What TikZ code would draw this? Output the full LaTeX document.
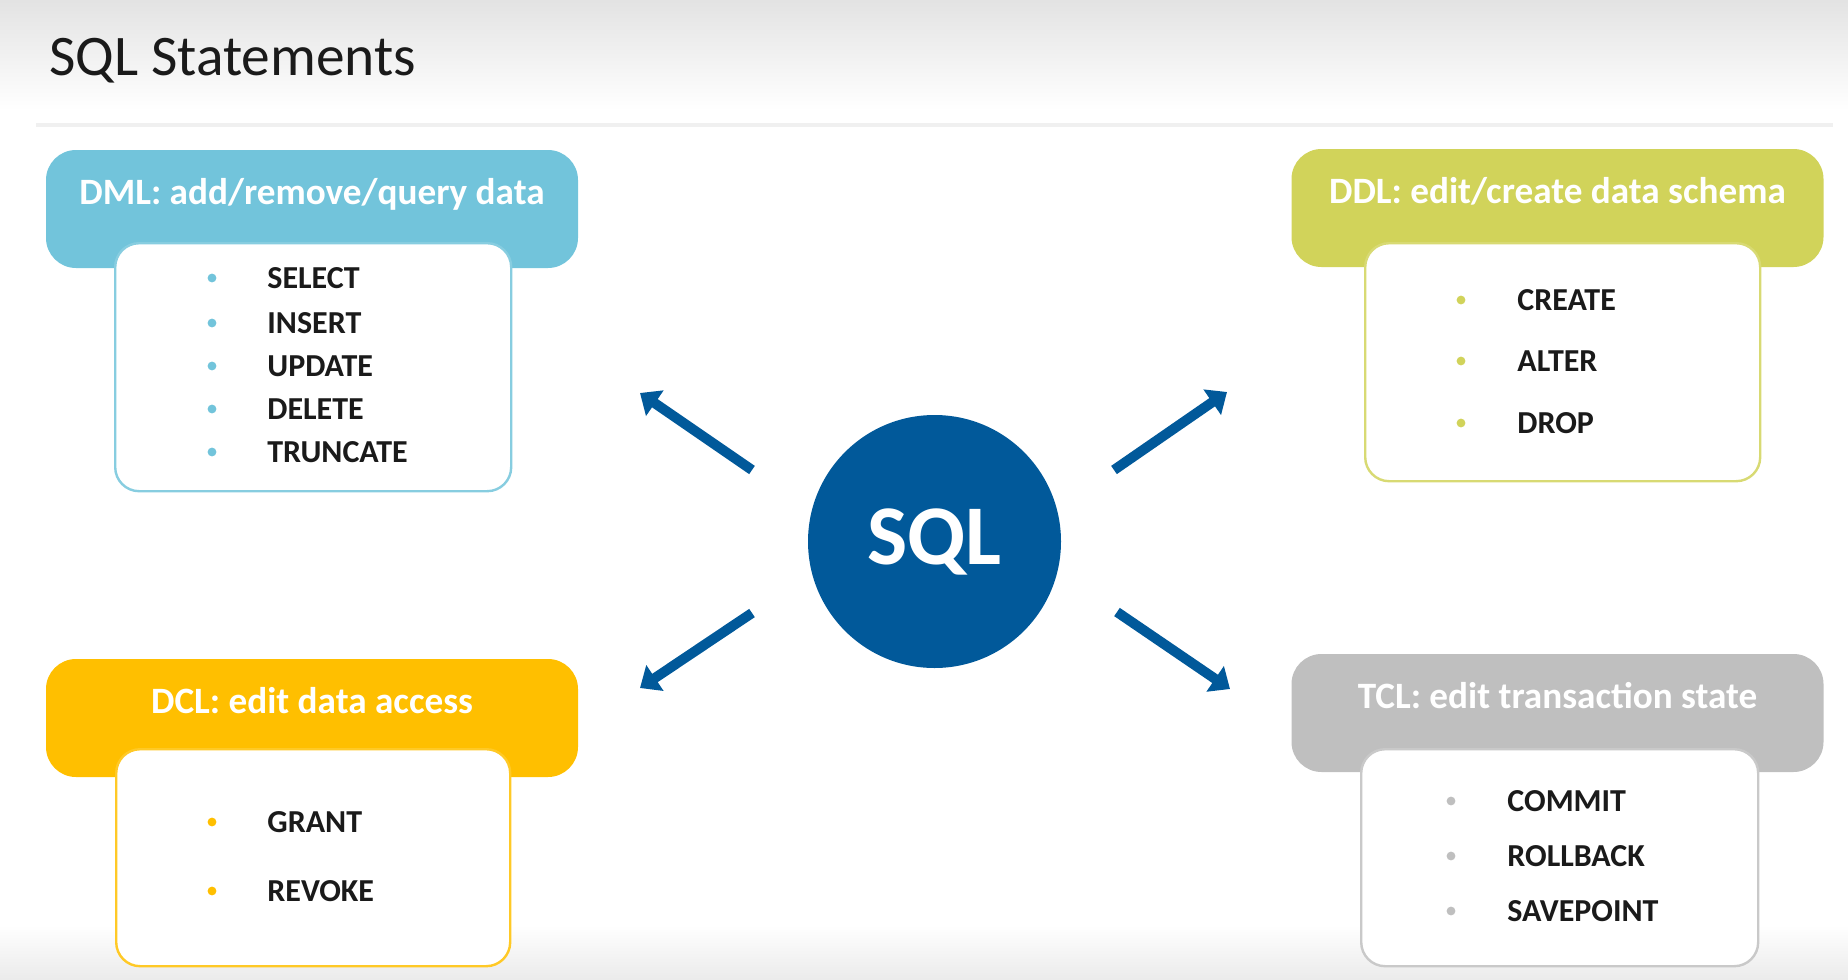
\documentclass[tikz,border=0pt]{standalone}
\usepackage{fontspec}
\setmainfont{Carlito}
\usetikzlibrary{arrows.meta, positioning}
\definecolor{sqlblue}{HTML}{01599A}
\definecolor{dmlc}{HTML}{72C4DB}
\definecolor{ddlc}{HTML}{D1D35A}
\definecolor{dclc}{HTML}{FFBF00}
\definecolor{tclc}{HTML}{BFBFBF}
\definecolor{itemc}{HTML}{1A1A1A}

\begin{document}
\begin{tikzpicture}[x=0.5pt, y=-0.5pt, title/.style={anchor=base west, inner sep=0pt, text=itemc, font=\fontsize{28.7}{31}\selectfont}, hdr/.style={fill=#1, rounded corners=15pt, minimum width=266pt, text height=27pt, text depth=32pt, inner sep=0pt, anchor=base, text=white, font=\bfseries\fontsize{18.6}{21}\selectfont}, listbox/.style={draw=#1!85, line width=1.2pt, fill=white, rounded corners=12pt, anchor=north west, inner sep=0pt}, bul/.style={circle, fill=#1, minimum size=4.4pt, inner sep=0pt}, item/.style={anchor=west, inner sep=0pt, text=itemc, font=\bfseries\fontsize{16}{18}\selectfont}, arr/.style={draw=sqlblue, line width=5pt, -{Triangle[length=9pt, width=15pt]}}]
\useasboundingbox (0,0) rectangle (1848,980);
\shade[top color=black!11, bottom color=white] (0,0) rectangle (1848,110);
\shade[top color=white, bottom color=black!8] (0,925) rectangle (1848,980);
\draw[black!6, line width=2pt] (36,125) -- (1833,125);
\node[title] (title) at (49,75){SQL Statements};
% DML
\node[hdr=dmlc] (dml) at (312,204){DML: add/remove/query data};
\node[listbox=dmlc, minimum width=198pt, minimum height=124pt] (dmlbox) at (114,242){};
\foreach \y/\w [count=\i] in {278/SELECT, 323/INSERT, 366/UPDATE, 409/DELETE, 452/TRUNCATE} {\node[bul=dmlc] (dmlb\i) at (212,\y){}; \node[item] (dmlt\i) at (267,\y){\w};}
% DDL
\node[hdr=ddlc] (ddl) at (1557.5,203){DDL: edit/create data schema};
\node[listbox=ddlc, minimum width=197.5pt, minimum height=119pt] (ddlbox) at (1364,242){};
\foreach \y/\w [count=\i] in {300/CREATE, 361/ALTER, 423/DROP} {\node[bul=ddlc] (ddlb\i) at (1461,\y){}; \node[item] (ddlt\i) at (1517,\y){\w};}
% DCL
\node[hdr=dclc] (dcl) at (312,713){DCL: edit data access};
\node[listbox=dclc, minimum width=197pt, minimum height=108.5pt] (dclbox) at (115,748){};
\foreach \y/\w [count=\i] in {822/GRANT, 891/REVOKE} {\node[bul=dclc] (dclb\i) at (212,\y){}; \node[item] (dclt\i) at (267,\y){\w};}
% TCL
\node[hdr=tclc] (tcl) at (1557.5,708){TCL: edit transaction state};
\node[listbox=tclc, minimum width=198.5pt, minimum height=108.5pt] (tclbox) at (1360,748){};
\foreach \y/\w [count=\i] in {801/COMMIT, 856/ROLLBACK, 911/SAVEPOINT} {\node[bul=tclc] (tclb\i) at (1451,\y){}; \node[item] (tclt\i) at (1507,\y){\w};}
% centre
\node[circle, fill=sqlblue, minimum size=126.5pt, inner sep=0pt, text=white, font=\bfseries\fontsize{42.5}{44}\selectfont] (sql) at (934.5,541.5){SQL};
\coordinate (ulS) at (752,470); \coordinate (ulE) at (640,393);
\coordinate (urS) at (1114,470); \coordinate (urE) at (1227,392);
\coordinate (llS) at (752,613); \coordinate (llE) at (640,688);
\coordinate (lrS) at (1117,612); \coordinate (lrE) at (1230,689);
\draw[arr] (ulS) -- (ulE);
\draw[arr] (urS) -- (urE);
\draw[arr] (llS) -- (llE);
\draw[arr] (lrS) -- (lrE);
\end{tikzpicture}
\end{document}
